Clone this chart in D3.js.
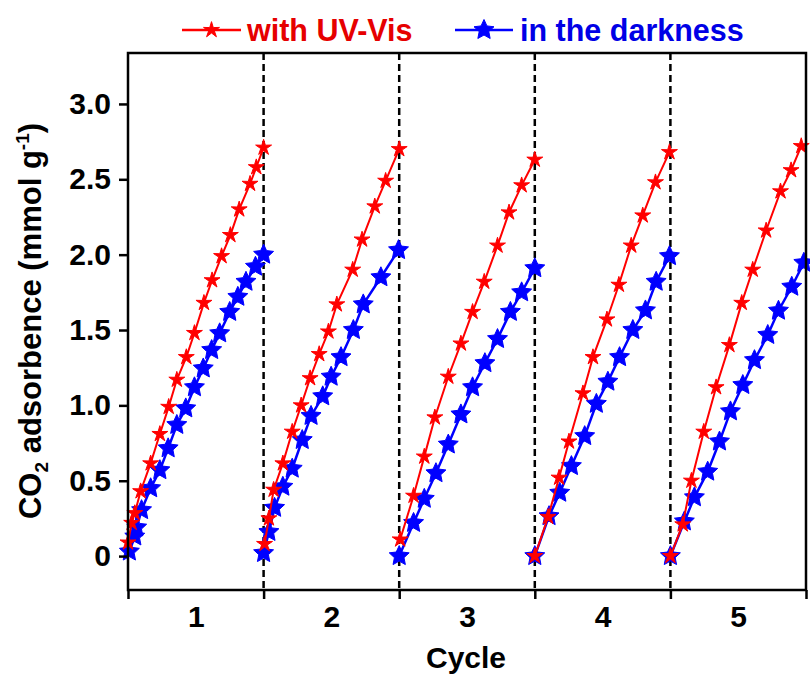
<!DOCTYPE html>
<html>
<head>
<meta charset="utf-8">
<script src="https://cdn.jsdelivr.net/npm/d3@7"></script>
<style>
  html, body { margin: 0; padding: 0; background: #fff; }
  svg { display: block; }
  text { font-family: "Liberation Sans", Arial, sans-serif; font-weight: bold; }
</style>
</head>
<body>
<svg id="chart" width="810" height="677"></svg>
<script>
// ---------------- data ----------------
const cycles = [1, 2, 3, 4, 5];
const seriesNames = ["with UV-Vis", "in the darkness"];
const yTickValues = [0, 0.5, 1.0, 1.5, 2.0, 2.5, 3.0];

// time within each cycle (fraction of the cycle) and CO2 uptake, with UV-Vis
const uvTime = [
  [0.00, 0.027, 0.05, 0.093, 0.167, 0.235, 0.30, 0.36, 0.43, 0.49, 0.56, 0.62, 0.69, 0.755, 0.82, 0.90, 0.946, 1.00],
  [0.007, 0.039, 0.074, 0.142, 0.211, 0.277, 0.343, 0.41, 0.478, 0.54, 0.657, 0.726, 0.82, 0.90, 1.00],
  [0.007, 0.106, 0.185, 0.263, 0.362, 0.455, 0.541, 0.627, 0.725, 0.81, 0.903, 1.00],
  [0.00, 0.098, 0.179, 0.252, 0.355, 0.429, 0.532, 0.62, 0.711, 0.796, 0.89, 0.993],
  [0.00, 0.091, 0.155, 0.246, 0.337, 0.435, 0.526, 0.607, 0.706, 0.812, 0.89, 0.965]
];
const uvValue = [
  [0.09, 0.22, 0.285, 0.43, 0.615, 0.81, 0.99, 1.17, 1.32, 1.48, 1.68, 1.83, 1.99, 2.13, 2.30, 2.47, 2.58, 2.71],
  [0.08, 0.25, 0.44, 0.615, 0.825, 1.00, 1.18, 1.34, 1.49, 1.67, 1.90, 2.10, 2.32, 2.49, 2.70],
  [0.11, 0.40, 0.66, 0.92, 1.19, 1.41, 1.62, 1.82, 2.06, 2.28, 2.46, 2.63],
  [0.00, 0.26, 0.52, 0.76, 1.08, 1.32, 1.57, 1.80, 2.06, 2.26, 2.48, 2.68],
  [0.00, 0.21, 0.50, 0.825, 1.12, 1.40, 1.68, 1.90, 2.16, 2.42, 2.56, 2.72]
];

// in the darkness
const darkTime = [
  [0.01, 0.05, 0.064, 0.10, 0.167, 0.235, 0.296, 0.36, 0.426, 0.49, 0.555, 0.617, 0.676, 0.75, 0.81, 0.87, 0.94, 1.00],
  [0.00, 0.039, 0.081, 0.142, 0.211, 0.285, 0.35, 0.436, 0.498, 0.571, 0.662, 0.735, 0.865, 0.995],
  [0.00, 0.106, 0.185, 0.271, 0.362, 0.455, 0.541, 0.632, 0.725, 0.82, 0.903, 1.00],
  [0.00, 0.105, 0.184, 0.27, 0.368, 0.454, 0.539, 0.625, 0.723, 0.816, 0.895, 0.993],
  [0.00, 0.103, 0.177, 0.275, 0.362, 0.443, 0.534, 0.62, 0.718, 0.797, 0.895, 0.984]
];
const darkValue = [
  [0.03, 0.13, 0.19, 0.305, 0.45, 0.57, 0.715, 0.87, 0.98, 1.12, 1.245, 1.367, 1.478, 1.62, 1.72, 1.82, 1.92, 2.00],
  [0.02, 0.16, 0.32, 0.46, 0.58, 0.77, 0.93, 1.06, 1.19, 1.32, 1.50, 1.67, 1.85, 2.03],
  [0.00, 0.22, 0.38, 0.55, 0.74, 0.94, 1.12, 1.28, 1.44, 1.62, 1.75, 1.91],
  [0.00, 0.265, 0.42, 0.597, 0.796, 1.01, 1.157, 1.32, 1.50, 1.63, 1.82, 1.99],
  [0.00, 0.23, 0.39, 0.56, 0.76, 0.96, 1.135, 1.30, 1.467, 1.628, 1.787, 1.946]
];

// ---------------- layout ----------------
const mLeft = 128, mRight = 806, mTop = 53, mBottom = 590;
const svg = d3.select("#chart");

const x = d3.scaleLinear().domain([0, cycles.length]).range([mLeft, mRight]);
const y = d3.scaleLinear().domain([-0.225, 3.338]).range([mBottom, mTop]);

const RED = "#ff0000", BLUE = "#0000ff";
const FONT = '"Liberation Sans", Arial, sans-serif';

// star symbol with configurable inner ratio
function starType(ratio) {
  return {
    draw(ctx, size) {
      const R = Math.sqrt(size);
      const r = R * ratio;
      for (let i = 0; i < 10; i++) {
        const a = -Math.PI / 2 + i * Math.PI / 5;
        const rr = i % 2 === 0 ? R : r;
        const px = Math.cos(a) * rr, py = Math.sin(a) * rr;
        if (i === 0) ctx.moveTo(px, py); else ctx.lineTo(px, py);
      }
      ctx.closePath();
    }
  };
}
const redStar = d3.symbol().type(starType(0.36)).size(70);
const blueStar = d3.symbol().type(starType(0.48)).size(110);

// dashed cycle separators
svg.append("g").selectAll("line")
  .data(cycles.slice(0, -1))
  .join("line")
  .attr("x1", d => x(d)).attr("x2", d => x(d))
  .attr("y1", mTop).attr("y2", mBottom)
  .attr("stroke", "#000").attr("stroke-width", 2.5)
  .attr("stroke-dasharray", "7,4");

// series
function makePoints(times, values) {
  return times.map((ts, ci) => ts.map((t, j) => ({ x: ci + t, y: values[ci][j] })));
}
const uvPts = makePoints(uvTime, uvValue);
const darkPts = makePoints(darkTime, darkValue);
const line = d3.line().x(d => x(d.x)).y(d => y(d.y));

function drawSeries(pts, color, sym, lw) {
  const g = svg.append("g");
  g.selectAll("path.l").data(pts).join("path")
    .attr("class", "l")
    .attr("d", line).attr("fill", "none")
    .attr("stroke", color).attr("stroke-width", lw);
  g.selectAll("path.m").data(pts.flat()).join("path")
    .attr("class", "m")
    .attr("transform", d => `translate(${x(d.x)},${y(d.y)})`)
    .attr("d", sym)
    .attr("fill", color).attr("stroke", color).attr("stroke-width", 1);
}
drawSeries(darkPts, BLUE, blueStar, 2.5);
drawSeries(uvPts, RED, redStar, 2);

// axes
const yAxis = d3.axisLeft(y).tickValues(yTickValues).tickSize(9).tickPadding(8)
  .tickFormat(d => d === 0 ? "0" : d3.format(".1f")(d));
const gy = svg.append("g").attr("transform", `translate(${mLeft},0)`).call(yAxis);
gy.select(".domain").remove();
gy.selectAll("line").attr("stroke", "#000").attr("stroke-width", 2.5);
gy.selectAll("text").attr("font-size", 30).attr("fill", "#000")
  .style("font-family", FONT).style("font-weight", "bold");

const xAxis = d3.axisBottom(x).tickValues(d3.range(0, cycles.length + 1)).tickSize(9).tickFormat("");
const gx = svg.append("g").attr("transform", `translate(0,${mBottom})`).call(xAxis);
gx.select(".domain").remove();
gx.selectAll("line").attr("stroke", "#000").attr("stroke-width", 2.5);

const xLab = d3.axisBottom(x).tickValues(cycles.map(c => c - 0.5)).tickSize(0).tickPadding(16)
  .tickFormat((d, i) => cycles[i]);
const gxl = svg.append("g").attr("transform", `translate(0,${mBottom})`).call(xLab);
gxl.select(".domain").remove();
gxl.selectAll("text").attr("font-size", 30).attr("fill", "#000")
  .style("font-family", FONT).style("font-weight", "bold");

// frame
svg.append("rect").attr("x", mLeft).attr("y", mTop)
  .attr("width", mRight - mLeft).attr("height", mBottom - mTop)
  .attr("fill", "none").attr("stroke", "#000").attr("stroke-width", 2.5);

// axis titles
svg.append("text").attr("x", (mLeft + mRight) / 2 - 1).attr("y", 668)
  .attr("text-anchor", "middle").attr("font-size", 30).text("Cycle");

const yl = svg.append("text")
  .attr("transform", `translate(41,${321}) rotate(-90)`)
  .attr("text-anchor", "middle").attr("font-size", 31);
yl.append("tspan").text("CO");
yl.append("tspan").attr("font-size", 19).attr("dy", 7).text("2");
yl.append("tspan").attr("dy", -7).text(" adsorbence (mmol g");
yl.append("tspan").attr("font-size", 19).attr("dy", -12).text("-1");
yl.append("tspan").attr("dy", 12).text(")");

// legend
const legend = [
  { name: seriesNames[0], color: RED, text: "#e60000", sym: redStar, x0: 182, x1: 241, tx: 247 },
  { name: seriesNames[1], color: BLUE, text: "#0000e6", sym: blueStar, x0: 455, x1: 513, tx: 520 }
];
const lg = svg.append("g");
legend.forEach(l => {
  lg.append("line").attr("x1", l.x0).attr("x2", l.x1).attr("y1", 30).attr("y2", 30)
    .attr("stroke", l.color).attr("stroke-width", 2.5);
  lg.append("path").attr("transform", `translate(${(l.x0 + l.x1) / 2},30)`)
    .attr("d", l.sym).attr("fill", l.color).attr("stroke", l.color).attr("stroke-width", 1);
  lg.append("text").attr("x", l.tx).attr("y", 41).attr("font-size", 30.5)
    .attr("fill", l.text).text(l.name);
});
</script>
</body>
</html>
